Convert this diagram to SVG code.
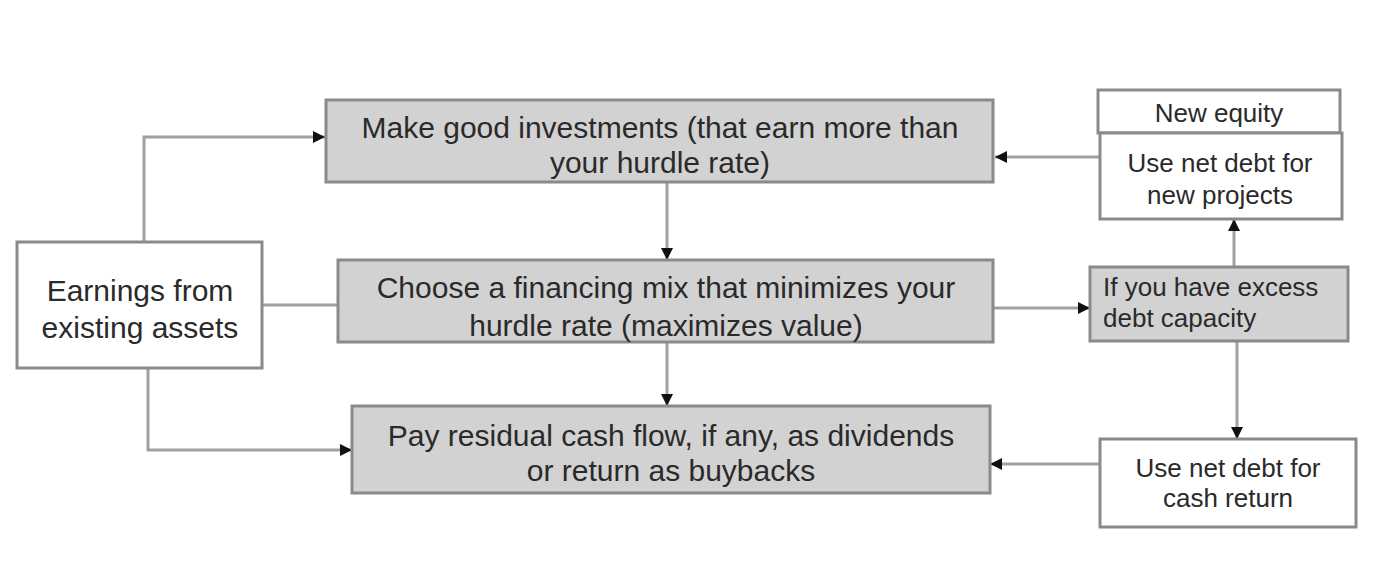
<svg xmlns="http://www.w3.org/2000/svg" width="1400" height="588" viewBox="0 0 1400 588">
<defs>
<marker id="ah" viewBox="0 0 10 10" refX="10" refY="5" markerWidth="4" markerHeight="4" orient="auto" markerUnits="strokeWidth">
<path d="M0,0 L10,5 L0,10 z" fill="#111"/>
</marker>
<style>
.gbox{fill:#d2d2d2;stroke:#8a8a8a;stroke-width:3}
.wbox{fill:#ffffff;stroke:#8a8a8a;stroke-width:3}
.t{font-family:"Liberation Sans",Arial,sans-serif;fill:#2a2a2a;text-anchor:middle}
.big{font-size:30px}
.sm{font-size:26px}
.conn{fill:none;stroke:#a0a0a0;stroke-width:3}
.arr{marker-end:url(#ah)}
</style>
</defs>
<rect width="1400" height="588" fill="#ffffff"/>
<g id="connectors">
<path class="conn arr" d="M144,242 V137 H325"/>
<path class="conn" d="M262,305 H338"/>
<path class="conn arr" d="M148,368 V450 H352"/>
<path class="conn arr" d="M667,182 V260"/>
<path class="conn arr" d="M667,342 V406"/>
<path class="conn arr" d="M993,308 H1090"/>
<path class="conn arr" d="M1234,267 V219"/>
<path class="conn arr" d="M1237,341 V439"/>
<path class="conn arr" d="M1100,157 H995"/>
<path class="conn arr" d="M1100,464 H990"/>
</g>
<g id="earnings">
<rect class="wbox" x="17" y="242" width="245" height="126"/>
<text class="t big" x="140" y="301">Earnings from</text>
<text class="t big" x="140" y="338">existing assets</text>
</g>
<g id="invest">
<rect class="gbox" x="326" y="100" width="667" height="82"/>
<text class="t big" x="660" y="138">Make good investments (that earn more than</text>
<text class="t big" x="660" y="173">your hurdle rate)</text>
</g>
<g id="financing">
<rect class="gbox" x="338" y="260" width="655" height="82"/>
<text class="t big" x="666" y="298">Choose a financing mix that minimizes your</text>
<text class="t big" x="666" y="336">hurdle rate (maximizes value)</text>
</g>
<g id="dividends">
<rect class="gbox" x="352" y="406" width="638" height="87"/>
<text class="t big" x="671" y="446">Pay residual cash flow, if any, as dividends</text>
<text class="t big" x="671" y="481">or return as buybacks</text>
</g>
<g id="newequity">
<rect class="wbox" x="1098" y="90" width="242" height="43"/>
<text class="t sm" x="1219" y="122">New equity</text>
</g>
<g id="newprojects">
<rect class="wbox" x="1100" y="133" width="242" height="86"/>
<text class="t sm" x="1220" y="172">Use net debt for</text>
<text class="t sm" x="1220" y="204">new projects</text>
</g>
<g id="excess">
<rect class="gbox" x="1090" y="267" width="258" height="74"/>
<text class="t sm" x="1103" y="296" style="text-anchor:start">If you have excess</text>
<text class="t sm" x="1103" y="327" style="text-anchor:start">debt capacity</text>
</g>
<g id="cashreturn">
<rect class="wbox" x="1100" y="439" width="256" height="88"/>
<text class="t sm" x="1228" y="477">Use net debt for</text>
<text class="t sm" x="1228" y="507">cash return</text>
</g>
</svg>
